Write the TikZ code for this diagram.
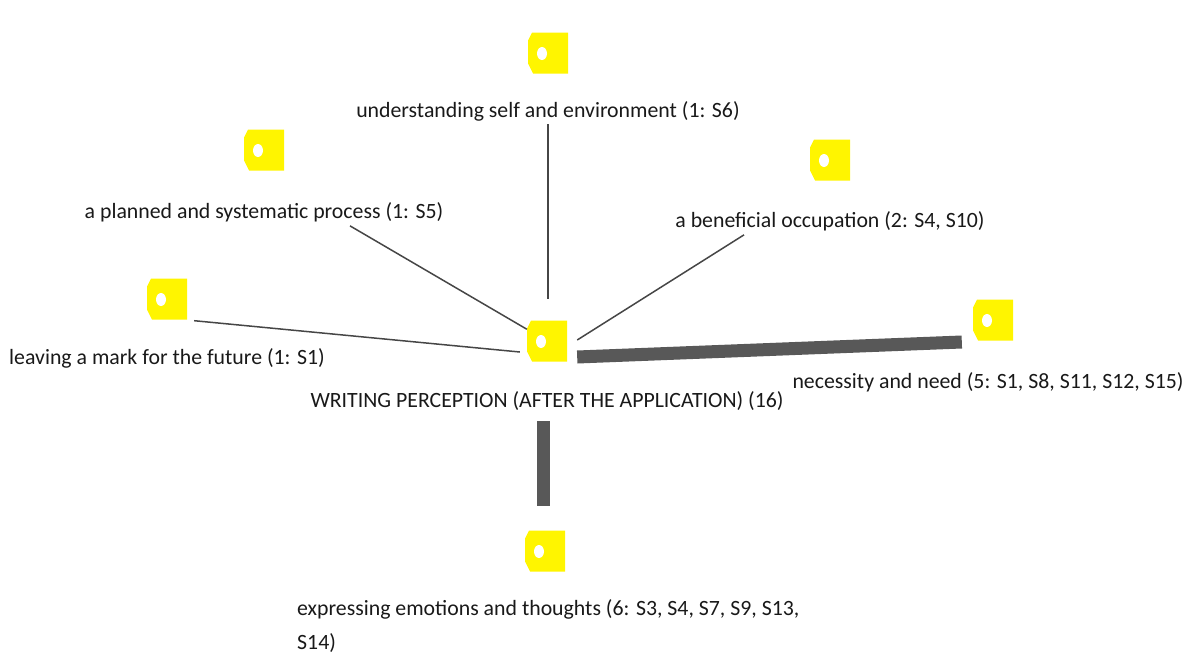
\documentclass[tikz,border=0pt]{standalone}
\usepackage{fontspec}
\setmainfont{Carlito}
\usepackage{tikz}
\usetikzlibrary{positioning}
\usepackage{xcolor}
\definecolor{codeyellow}{RGB}{255,245,0}
\definecolor{linkgray}{RGB}{70,70,70}
\definecolor{barGray}{RGB}{88,88,88}

\tikzset{
  codeicon/.style={minimum width=40pt, minimum height=41pt, inner sep=0pt,
    path picture={
      \fill[codeyellow] ([yshift=-8pt]path picture bounding box.north west)
        -- ([xshift=4pt]path picture bounding box.north west)
        -- (path picture bounding box.north east)
        -- (path picture bounding box.south east)
        -- ([xshift=5pt]path picture bounding box.south west)
        -- ([yshift=10pt]path picture bounding box.south west) -- cycle;
      \fill[white] ([xshift=14pt,yshift=-21pt]path picture bounding box.north west)
        ellipse [x radius=5pt, y radius=6.5pt];
    }},
  codelabel/.style={inner sep=0pt, text=black!90, font=\fontsize{21.8}{34}\selectfont},
  thinlink/.style={linkgray, line width=1.5pt},
  thicklink/.style={barGray, line width=13pt}
}

\begin{document}
\begin{tikzpicture}[x=1pt,y=-1pt]
            \useasboundingbox (0,0) rectangle (1186,659);

            % Codes
            \node[codeicon] (iconCtr) at (547,341) {};
            \node[codelabel, below=50pt of iconCtr.center] (lblCtr) {WRITING PERCEPTION (AFTER THE APPLICATION) (16)};

            \node[codeicon] (iconSelf) at (548,53) {};
            \node[codelabel, below=48pt of iconSelf.center] (lblSelf) {understanding self and environment (1: S6)};

            \node[codeicon] (iconPlan) at (264,150) {};
            \node[codelabel, below=52pt of iconPlan.center] (lblPlan) {a planned and systematic process (1: S5)};

            \node[codeicon] (iconBenef) at (830,160) {};
            \node[codelabel, below=51pt of iconBenef.center] (lblBenef) {a beneficial occupation (2: S4, S10)};

            \node[codeicon] (iconMark) at (167,299) {};
            \node[codelabel, below=49pt of iconMark.center] (lblMark) {leaving a mark for the future (1: S1)};

            \node[codeicon] (iconNeed) at (993,320) {};
            \node[codelabel, below=52pt of iconNeed.center, xshift=-5pt] (lblNeed) {necessity and need (5: S1, S8, S11, S12, S15)};

            \node[codeicon] (iconExpr) at (545,551) {};
            \node[codelabel, align=left, anchor=north west] (lblExpr) at (297,599) {expressing emotions and thoughts (6: S3, S4, S7, S9, S13,\\S14)};

            % Connections
            \draw[thinlink, shorten <=3pt, shorten >=21pt] (lblSelf.south) -- (iconSelf.center |- iconCtr.north);
            \draw[thinlink] ([xshift=86pt,yshift=-4pt]lblPlan.south) -- (iconCtr);
            \draw[thinlink] ([xshift=-86pt,yshift=-4pt]lblBenef.south) -- ([xshift=10pt,yshift=1pt]iconCtr.east);
            \draw[thinlink] ([xshift=7pt,yshift=-1pt]iconMark.south east) -- ([xshift=-7pt,yshift=-11pt]iconCtr.west);
            \draw[thicklink] ([xshift=10pt,yshift=-16pt]iconCtr.east) -- ([xshift=-11pt,yshift=-22pt]iconNeed.west);
            \draw[thicklink] ([xshift=-2pt,yshift=-11pt]lblCtr.south -| iconExpr.north) -- ([xshift=-2pt,yshift=24pt]iconExpr.north);
        \end{tikzpicture}
\end{document}
